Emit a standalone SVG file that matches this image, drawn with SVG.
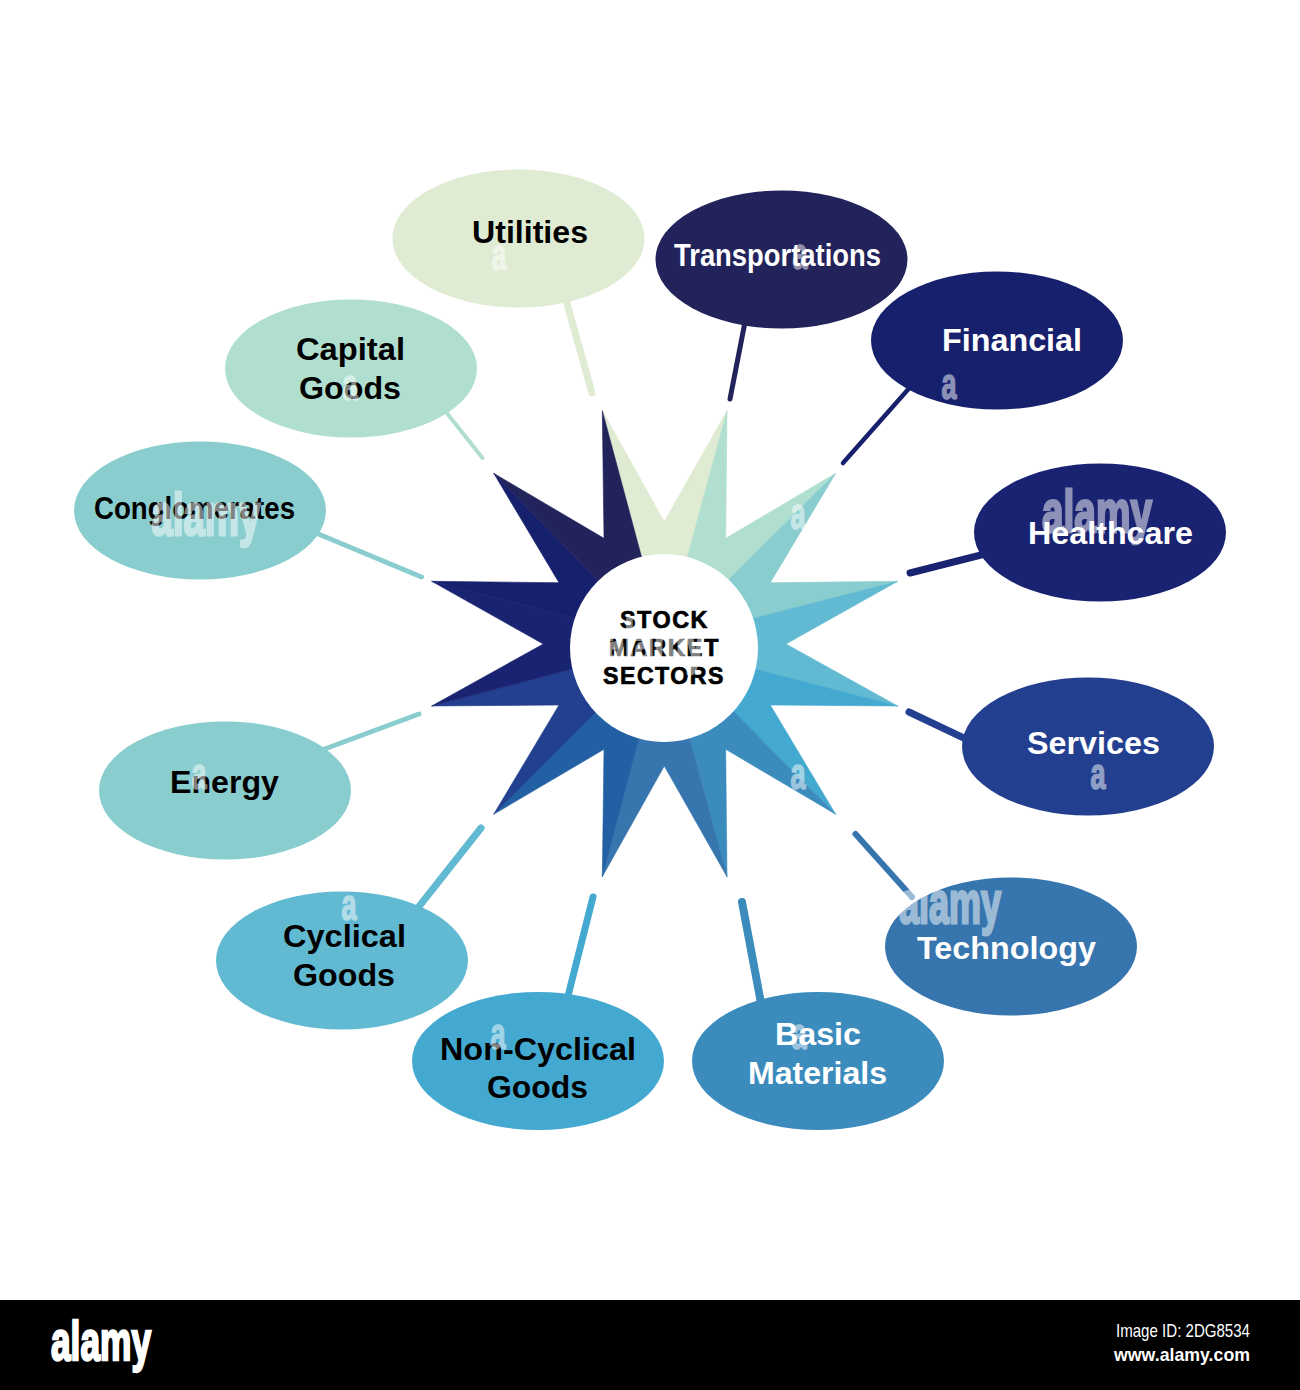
<svg xmlns="http://www.w3.org/2000/svg" width="1300" height="1390" viewBox="0 0 1300 1390">
<style>
text{font-family:"Liberation Sans",Arial,sans-serif;font-weight:700;font-size:32px}
.d{fill:#000}.w{fill:#fff}
.hub{font-size:23px;letter-spacing:1.500px;fill:#000;stroke:#000;stroke-width:.7px}
.c{fill:none;stroke-linecap:round}
.wm{fill:#fff;stroke:#fff;stroke-width:1.600px;opacity:.5;font-size:44px}
.wl{fill:#fff;stroke:#fff;stroke-width:2.800px;opacity:.5;font-size:60px}
.n{fill:#fff;font-weight:400;font-size:19px}
#star polygon{stroke-width:.6px;stroke-linejoin:round}
</style>
<rect width="1300" height="1390" fill="#fff"/>
<g id="connectors" class="c">
<line x1="566" y1="300" x2="592" y2="393" stroke="#DFEBD2" stroke-width="7"/>
<line x1="446" y1="412" x2="482.5" y2="458" stroke="#B0DFCF" stroke-width="4"/>
<line x1="316" y1="533" x2="421.5" y2="577" stroke="#8ACDCE" stroke-width="5"/>
<line x1="745" y1="322" x2="730" y2="399" stroke="#22235A" stroke-width="5"/>
<line x1="912" y1="385" x2="843" y2="463" stroke="#17206D" stroke-width="4.5"/>
<line x1="985" y1="554" x2="910" y2="573" stroke="#1A2371" stroke-width="7"/>
<line x1="968" y1="740" x2="909" y2="712" stroke="#233F8F" stroke-width="7"/>
<line x1="912" y1="897" x2="855.5" y2="834" stroke="#3775AE" stroke-width="6"/>
<line x1="761" y1="1003" x2="742" y2="902" stroke="#3B8CBD" stroke-width="8"/>
<line x1="322" y1="750" x2="419" y2="714" stroke="#8ACDCE" stroke-width="5"/>
<line x1="417" y1="909" x2="481" y2="828" stroke="#62BAD2" stroke-width="7"/>
<line x1="567" y1="1000" x2="593" y2="897" stroke="#44A9D0" stroke-width="7"/>
</g>
<g id="star">
<polygon fill="#DFEBD2" stroke="#DFEBD2" points="664,648 641,555 602.3,410.7 664.3,521.7 727,410.7 688,555"/>
<polygon fill="#B0DFCF" stroke="#B0DFCF" points="664,648 688,555 727,410.7 725.7,538.3 835.7,473.3 730,578"/>
<polygon fill="#8ACDCE" stroke="#8ACDCE" points="664,648 730,578 835.7,473.3 770.3,582.7 897.7,581.3 755,618"/>
<polygon fill="#62BAD2" stroke="#62BAD2" points="664,648 755,618 897.7,581.3 786,644 897.7,706 755,669"/>
<polygon fill="#44A9D0" stroke="#44A9D0" points="664,648 755,669 897.7,706 770.3,705 835.7,814.3 735,713"/>
<polygon fill="#3B8CBD" stroke="#3B8CBD" points="664,648 735,713 835.7,814.3 725.7,749.3 727,876.7 690,740"/>
<polygon fill="#3775AE" stroke="#3775AE" points="664,648 690,740 727,876.7 664.3,766 602.3,876.7 638,742"/>
<polygon fill="#2360A3" stroke="#2360A3" points="664,648 638,742 602.3,876.7 604,749.3 493.7,814.3 593,715"/>
<polygon fill="#233F8F" stroke="#233F8F" points="664,648 593,715 493.7,814.3 559,705 431.7,706 572,669"/>
<polygon fill="#1A2371" stroke="#1A2371" points="664,648 572,669 431.7,706 543.3,644 431.7,581.3 570,617"/>
<polygon fill="#17206D" stroke="#17206D" points="664,648 570,617 431.7,581.3 559,582.7 493.7,473.3 595,577"/>
<polygon fill="#22235A" stroke="#22235A" points="664,648 595,577 493.7,473.3 604,538.3 602.3,410.7 641,555"/>
</g>
<g id="hub">
<circle cx="664" cy="648" r="94" fill="#fff"/>
<text class="hub" x="664.5" y="628" text-anchor="middle" textLength="89" lengthAdjust="spacingAndGlyphs">STOCK</text>
<text class="hub" x="664.5" y="656" text-anchor="middle" textLength="111" lengthAdjust="spacingAndGlyphs">MARKET</text>
<text class="hub" x="664" y="684" text-anchor="middle" textLength="122" lengthAdjust="spacingAndGlyphs">SECTORS</text>
</g>
<g id="utilities"><ellipse cx="518.500" cy="238.500" rx="126" ry="69" fill="#DFEBD2"/><text class="d" x="530" y="243" text-anchor="middle" textLength="116" lengthAdjust="spacingAndGlyphs">Utilities</text></g>
<g id="transportations"><ellipse cx="781.500" cy="259.500" rx="126" ry="69" fill="#22235A"/><text class="w" x="777.500" y="266" text-anchor="middle" textLength="207" lengthAdjust="spacingAndGlyphs">Transportations</text></g>
<g id="financial"><ellipse cx="997" cy="340.500" rx="126" ry="69" fill="#17206D"/><text class="w" x="1012" y="351" text-anchor="middle" textLength="140" lengthAdjust="spacingAndGlyphs">Financial</text></g>
<g id="healthcare"><ellipse cx="1100" cy="532.500" rx="126" ry="69" fill="#1A2371"/><text class="w" x="1110.500" y="544" text-anchor="middle" textLength="165" lengthAdjust="spacingAndGlyphs">Healthcare</text></g>
<g id="services"><ellipse cx="1088" cy="746.500" rx="126" ry="69" fill="#233F8F"/><text class="w" x="1093.500" y="754" text-anchor="middle" textLength="133" lengthAdjust="spacingAndGlyphs">Services</text></g>
<g id="technology"><ellipse cx="1011" cy="946.500" rx="126" ry="69" fill="#3775AE"/><text class="w" x="1006.500" y="959" text-anchor="middle" textLength="179" lengthAdjust="spacingAndGlyphs">Technology</text></g>
<g id="basic-materials"><ellipse cx="818" cy="1061" rx="126" ry="69" fill="#3B8CBD"/><text class="w" x="818" y="1045" text-anchor="middle" textLength="86" lengthAdjust="spacingAndGlyphs">Basic</text><text class="w" x="817.500" y="1084" text-anchor="middle" textLength="139" lengthAdjust="spacingAndGlyphs">Materials</text></g>
<g id="non-cyclical-goods"><ellipse cx="538" cy="1061" rx="126" ry="69" fill="#44A9D0"/><text class="d" x="538" y="1060" text-anchor="middle" textLength="196" lengthAdjust="spacingAndGlyphs">Non-Cyclical</text><text class="d" x="537.500" y="1098" text-anchor="middle" textLength="101" lengthAdjust="spacingAndGlyphs">Goods</text></g>
<g id="cyclical-goods"><ellipse cx="342" cy="960.500" rx="126" ry="69" fill="#62BAD2"/><text class="d" x="344.500" y="947" text-anchor="middle" textLength="123" lengthAdjust="spacingAndGlyphs">Cyclical</text><text class="d" x="344" y="986" text-anchor="middle" textLength="102" lengthAdjust="spacingAndGlyphs">Goods</text></g>
<g id="energy"><ellipse cx="225" cy="790.500" rx="126" ry="69" fill="#8ACDCE"/><text class="d" x="224.500" y="793" text-anchor="middle" textLength="109" lengthAdjust="spacingAndGlyphs">Energy</text></g>
<g id="conglomerates"><ellipse cx="200" cy="510.500" rx="126" ry="69" fill="#8ACDCE"/><text class="d" x="194.500" y="519" text-anchor="middle" textLength="201" lengthAdjust="spacingAndGlyphs">Conglomerates</text></g>
<g id="capital-goods"><ellipse cx="351" cy="368.500" rx="126" ry="69" fill="#B0DFCF"/><text class="d" x="350.500" y="360" text-anchor="middle" textLength="109" lengthAdjust="spacingAndGlyphs">Capital</text><text class="d" x="350" y="399" text-anchor="middle" textLength="102" lengthAdjust="spacingAndGlyphs">Goods</text></g>
<g id="watermarks" text-anchor="middle">
<text class="wm" x="499" y="270" textLength="15" lengthAdjust="spacingAndGlyphs">a</text>
<text class="wm" x="350" y="400" textLength="15" lengthAdjust="spacingAndGlyphs">a</text>
<text class="wm" x="800" y="269" textLength="15" lengthAdjust="spacingAndGlyphs">a</text>
<text class="wm" x="949" y="399" textLength="15" lengthAdjust="spacingAndGlyphs">a</text>
<text class="wm" x="798" y="529" textLength="15" lengthAdjust="spacingAndGlyphs">a</text>
<text class="wm" x="1098" y="789" textLength="15" lengthAdjust="spacingAndGlyphs">a</text>
<text class="wm" x="798" y="789" textLength="15" lengthAdjust="spacingAndGlyphs">a</text>
<text class="wm" x="799" y="1049" textLength="15" lengthAdjust="spacingAndGlyphs">a</text>
<text class="wm" x="498" y="1049" textLength="15" lengthAdjust="spacingAndGlyphs">a</text>
<text class="wm" x="349" y="920" textLength="15" lengthAdjust="spacingAndGlyphs">a</text>
<text class="wm" x="199" y="789" textLength="15" lengthAdjust="spacingAndGlyphs">a</text>
<text class="wl" x="206" y="535" textLength="109" lengthAdjust="spacingAndGlyphs">alamy</text>
<text class="wl" x="1097" y="532" textLength="110" lengthAdjust="spacingAndGlyphs">alamy</text>
<text class="wl" x="950" y="923" textLength="102" lengthAdjust="spacingAndGlyphs">alamy</text>
<text class="wl" x="655" y="662" textLength="100" lengthAdjust="spacingAndGlyphs">alamy</text>
</g>
<g id="footer">
<rect x="0" y="1300" width="1300" height="90" fill="#000"/>
<text x="101" y="1360" fill="#fff" stroke="#fff" stroke-width="2.500" style="font-size:55px" text-anchor="middle" textLength="100" lengthAdjust="spacingAndGlyphs">alamy</text>
<text class="n" x="1250" y="1337" text-anchor="end" textLength="134" lengthAdjust="spacingAndGlyphs">Image ID: 2DG8534</text>
<text class="n" x="1250" y="1361" text-anchor="end" textLength="136" lengthAdjust="spacingAndGlyphs" style="font-weight:700">www.alamy.com</text>
</g>
</svg>
